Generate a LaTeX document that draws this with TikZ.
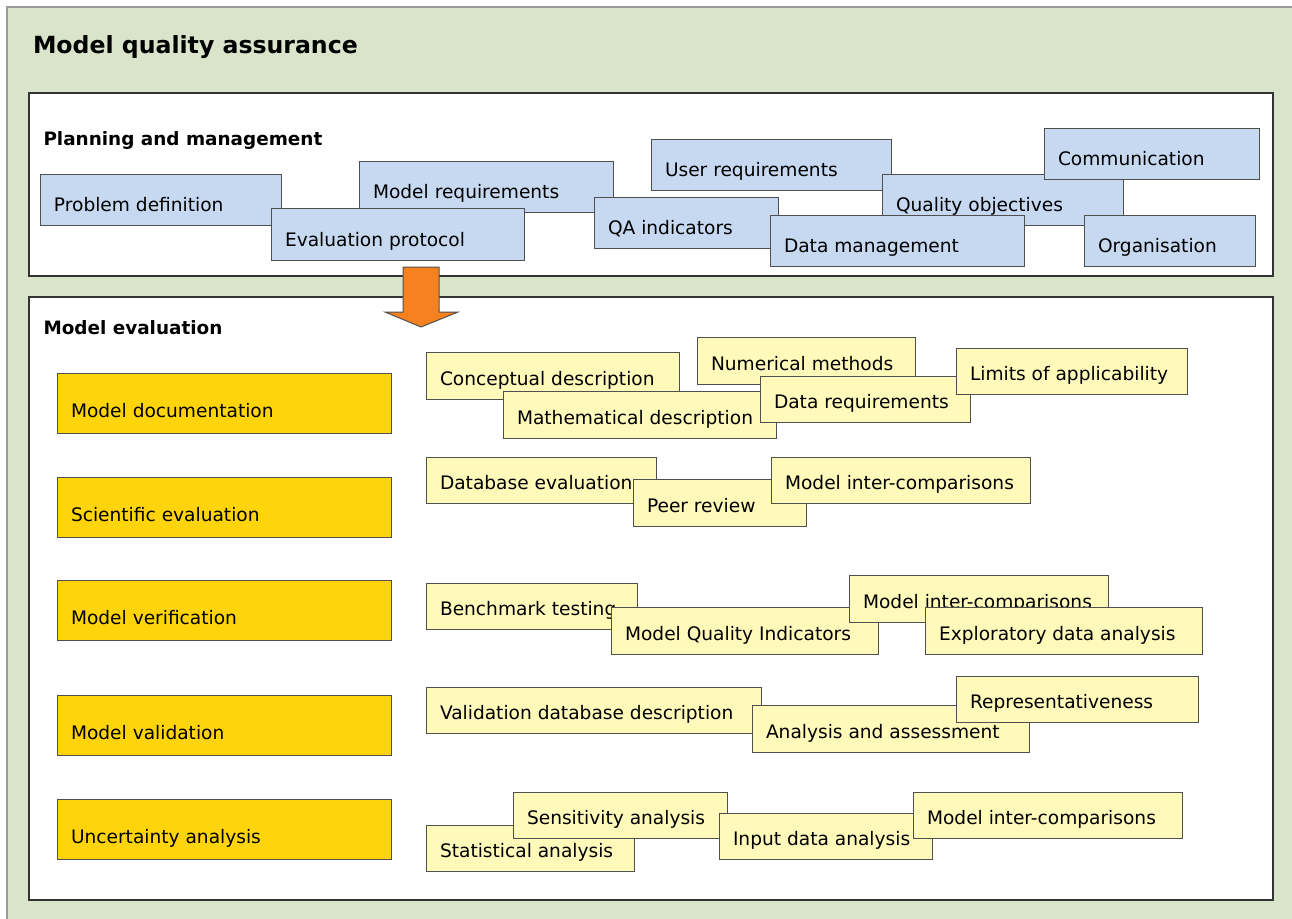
\documentclass[tikz,border=0pt]{standalone}
\usepackage{fontspec}
\setmainfont{DejaVu Sans}
\definecolor{bggreen}{HTML}{D9E4CB}
\definecolor{bluefill}{HTML}{C6D9F1}
\definecolor{yelfill}{HTML}{FFFAB9}
\definecolor{goldfill}{HTML}{FFD40A}
\definecolor{arroworange}{HTML}{F5821F}
\definecolor{edgegrey}{HTML}{505050}
\definecolor{outergrey}{HTML}{9A9A9A}
\tikzset{
  panel/.style={draw=black!80, line width=0.75pt, fill=white, inner sep=0, outer sep=0},
  boxbase/.style={draw=edgegrey, line width=0.5pt, inner sep=0, outer sep=0},
  bbox/.style={boxbase, fill=bluefill},
  ybox/.style={boxbase, fill=yelfill},
  gbox/.style={boxbase, fill=goldfill},
  lbl/.style={inner sep=0, outer sep=0, text=black, font=\fontsize{9.3}{11}\selectfont},
  sectitle/.style={inner sep=0, outer sep=0, text=black, font=\bfseries\fontsize{9.2}{11}\selectfont},
  maintitle/.style={inner sep=0, outer sep=0, text=black, font=\bfseries\fontsize{11.8}{14}\selectfont},
  bigarrow/.style={draw=edgegrey, line width=0.5pt, fill=arroworange},
}
% name, style, x1, y1, x2, y2, raise of baseline, text
\newcommand{\qabox}[8]{%
  \node[#2, anchor=north west, minimum width={(#5-#3)*0.5pt}, minimum height={(#6-#4)*0.5pt}] (#1) at (#3,#4) {};
  \node[lbl, anchor=base west] (#1-t) at ([shift={(7pt,#7)}]#1.south west) {#8};
}
\begin{document}
\begin{tikzpicture}[x=0.5pt, y=-0.5pt]
\useasboundingbox (0,0) rectangle (1292,918);
\clip (0,0) rectangle (1292,918);
\fill[white] (0,0) rectangle (1292,918);
\node[draw=outergrey, line width=0.6pt, fill=bggreen, inner sep=0, outer sep=0,
      anchor=north west, minimum width=660pt, minimum height=470pt] (outer) at (7,7) {};
\node[maintitle, anchor=base west] (title) at (33,53) {Model quality assurance};

% Planning and management panel
\node[panel, anchor=north west, minimum width={(1273-29)*0.5pt}, minimum height={(276-93)*0.5pt}] (plan) at (29,93) {};
\node[sectitle, anchor=base west] (plan-t) at (43.5,145) {Planning and management};

\qabox{pd}{bbox}{40}{174}{281}{225}{7pt}{Problem definition}
\qabox{mr}{bbox}{359}{161}{613}{212}{7pt}{Model requirements}
\qabox{ep}{bbox}{271}{208}{524}{260}{7pt}{Evaluation protocol}
\qabox{qa}{bbox}{594}{197}{778}{248}{7pt}{QA indicators}
\qabox{ur}{bbox}{651}{139}{891}{190}{7pt}{User requirements}
\qabox{qo}{bbox}{882}{174}{1123}{225}{7pt}{Quality objectives}
\qabox{co}{bbox}{1044}{128}{1259}{179}{7pt}{Communication}
\qabox{or}{bbox}{1084}{215}{1255}{266}{7pt}{Organisation}
\qabox{dm}{bbox}{770}{215}{1024}{266}{7pt}{Data management}

% Model evaluation panel
\node[panel, anchor=north west, minimum width={(1273-29)*0.5pt}, minimum height={(900-297)*0.5pt}] (eval) at (29,297) {};
\node[sectitle, anchor=base west] (eval-t) at (43.5,334.5) {Model evaluation};

\qabox{mdoc}{gbox}{57}{373}{391}{433}{8pt}{Model documentation}
\qabox{seval}{gbox}{57}{477}{391}{537}{8pt}{Scientific evaluation}
\qabox{mver}{gbox}{57}{580}{391}{640}{8pt}{Model verification}
\qabox{mval}{gbox}{57}{695}{391}{755}{8pt}{Model validation}
\qabox{unc}{gbox}{57}{799}{391}{859}{8pt}{Uncertainty analysis}

% row 1
\qabox{cd}{ybox}{426}{352}{679}{399}{7pt}{Conceptual description}
\qabox{nm}{ybox}{697}{337}{915}{384}{7pt}{Numerical methods}
\qabox{md}{ybox}{503}{391}{776}{438}{7pt}{Mathematical description}
\qabox{dr}{ybox}{760}{376}{970}{422}{7pt}{Data requirements}
\qabox{la}{ybox}{956}{348}{1187}{394}{7pt}{Limits of applicability}
% row 2
\qabox{de}{ybox}{426}{457}{656}{503}{7pt}{Database evaluation}
\qabox{pr}{ybox}{633}{479}{806}{526}{7pt}{Peer review}
\qabox{mic1}{ybox}{771}{457}{1030}{503}{7pt}{Model inter-comparisons}
% row 3
\qabox{bt}{ybox}{426}{583}{637}{629}{7pt}{Benchmark testing}
\qabox{mqi}{ybox}{611}{607}{878}{654}{7pt}{Model Quality Indicators}
\qabox{mic2}{ybox}{849}{575}{1108}{622}{7pt}{Model inter-comparisons}
\qabox{eda}{ybox}{925}{607}{1202}{654}{7pt}{Exploratory data analysis}
% row 4
\qabox{vdd}{ybox}{426}{687}{761}{733}{7pt}{Validation database description}
\qabox{aa}{ybox}{752}{705}{1029}{752}{7pt}{Analysis and assessment}
\qabox{rep}{ybox}{956}{676}{1198}{722}{7pt}{Representativeness}
% row 5
\qabox{sta}{ybox}{426}{825}{634}{871}{7pt}{Statistical analysis}
\qabox{sen}{ybox}{513}{792}{727}{838}{7pt}{Sensitivity analysis}
\qabox{ida}{ybox}{719}{813}{932}{859}{7pt}{Input data analysis}
\qabox{mic3}{ybox}{913}{792}{1182}{838}{7pt}{Model inter-comparisons}

% block arrow from planning to evaluation
\coordinate (arrtop) at (421,267);
\coordinate (arrtip) at (421,327);
\draw[bigarrow] ([xshift=-9pt]arrtop) -- ([xshift=9pt]arrtop) -- ([xshift=9pt,yshift=7.5pt]arrtip)
  -- ([xshift=18.5pt,yshift=7.5pt]arrtip) -- (arrtip) -- ([xshift=-18pt,yshift=7.5pt]arrtip)
  -- ([xshift=-9pt,yshift=7.5pt]arrtip) -- cycle;
\end{tikzpicture}
\end{document}
